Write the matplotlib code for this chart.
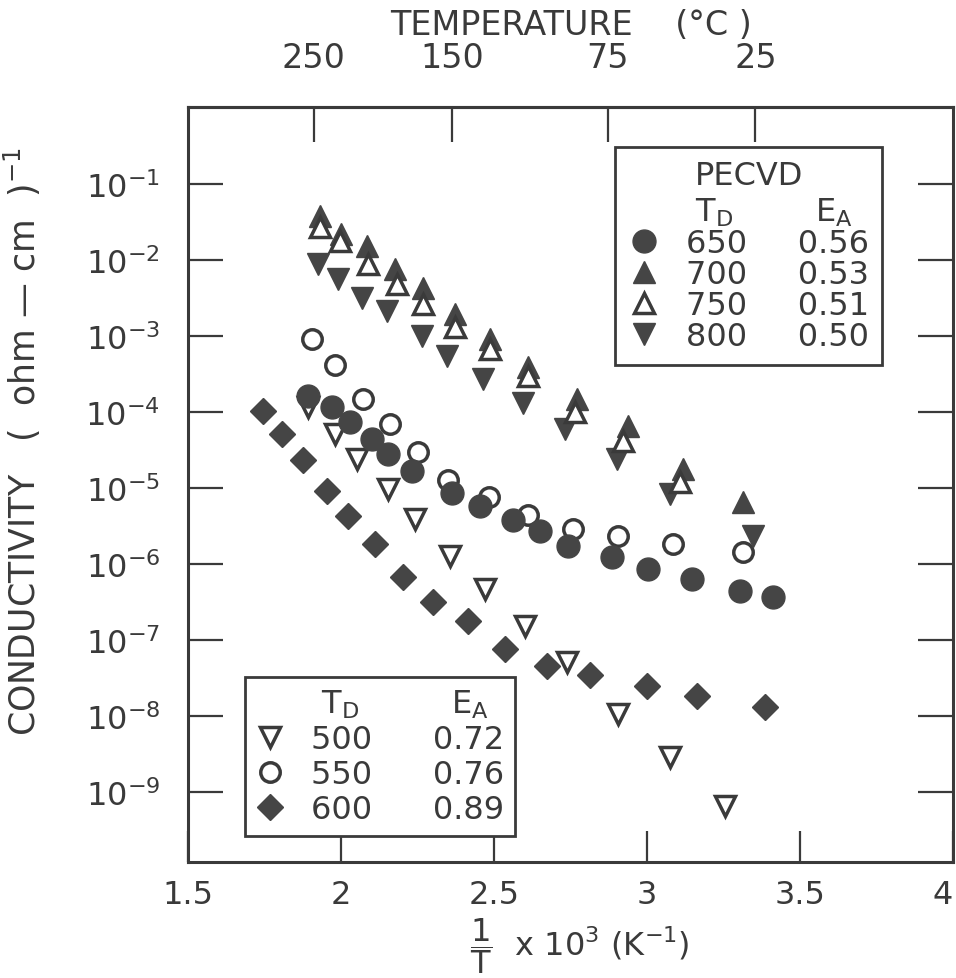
import matplotlib.pyplot as plt
from matplotlib.ticker import NullLocator
import numpy as np

plt.rcParams['font.family'] = ['DejaVu Sans']
plt.rcParams['mathtext.fontset'] = 'dejavusans'

ink = '#3a3a3a'
fill = '#454545'

# 1/T x 10^3 (K^-1) and conductivity (ohm-cm)^-1
x700 = [1.931, 2.000, 2.085, 2.176, 2.268, 2.373, 2.487, 2.611, 2.771, 2.938, 3.118, 3.314]
y700 = [3.8e-2, 2.2e-2, 1.5e-2, 7.6e-3, 4.2e-3, 1.95e-3, 9.1e-4, 3.9e-4, 1.5e-4, 6.6e-5, 1.78e-5, 6.6e-6]

x750 = [1.931, 1.997, 2.088, 2.183, 2.268, 2.373, 2.487, 2.611, 2.765, 2.922, 3.108]
y750 = [2.7e-2, 1.78e-2, 8.9e-3, 4.8e-3, 2.6e-3, 1.32e-3, 6.8e-4, 2.95e-4, 1.0e-4, 4.1e-5, 1.2e-5]

x800 = [1.925, 1.990, 2.069, 2.150, 2.265, 2.346, 2.464, 2.595, 2.732, 2.902, 3.075, 3.346]
y800 = [8.9e-3, 5.6e-3, 3.1e-3, 2.1e-3, 1.0e-3, 5.5e-4, 2.7e-4, 1.29e-4, 6.0e-5, 2.4e-5, 8.3e-6, 2.35e-6]

x650 = [1.892, 1.971, 2.029, 2.101, 2.154, 2.232, 2.363, 2.454, 2.562, 2.650, 2.742, 2.886,
        3.003, 3.147, 3.304, 3.412]
y650 = [1.62e-4, 1.17e-4, 7.4e-5, 4.4e-5, 2.8e-5, 1.66e-5, 8.5e-6, 5.8e-6, 3.8e-6, 2.7e-6,
        1.74e-6, 1.23e-6, 8.5e-7, 6.3e-7, 4.4e-7, 3.7e-7]

x550 = [1.905, 1.980, 2.072, 2.160, 2.252, 2.350, 2.484, 2.611, 2.758, 2.905, 3.085, 3.314]
y550 = [9.1e-4, 4.1e-4, 1.48e-4, 6.9e-5, 2.95e-5, 1.29e-5, 7.6e-6, 4.4e-6, 2.9e-6, 2.3e-6,
        1.82e-6, 1.45e-6]

x500 = [1.892, 1.980, 2.052, 2.154, 2.242, 2.356, 2.471, 2.601, 2.739, 2.905, 3.075, 3.255]
y500 = [1.17e-4, 5.1e-5, 2.4e-5, 9.8e-6, 3.9e-6, 1.29e-6, 4.7e-7, 1.51e-7, 5.1e-8, 1.07e-8,
        2.9e-9, 6.6e-10]

x600 = [1.745, 1.807, 1.876, 1.954, 2.023, 2.111, 2.203, 2.301, 2.415, 2.536, 2.673, 2.814,
        3.000, 3.163, 3.386]
y600 = [1.02e-4, 5.1e-5, 2.3e-5, 9.1e-6, 4.3e-6, 1.82e-6, 6.8e-7, 3.2e-7, 1.78e-7, 7.6e-8,
        4.6e-8, 3.5e-8, 2.45e-8, 1.82e-8, 1.32e-8]

pecvd_td = [650, 700, 750, 800]
pecvd_ea = ['0.56', '0.53', '0.51', '0.50']
low_td = [500, 550, 600]
low_ea = ['0.72', '0.76', '0.89']

xticks = [1.5, 2, 2.5, 3, 3.5, 4]
xticklabels = ['1.5', '2', '2.5', '3', '3.5', '4']
yexp = [-1, -2, -3, -4, -5, -6, -7, -8, -9]
temps_c = [250, 150, 75, 25]

fig = plt.figure(figsize=(9.56, 9.79), dpi=100)
W, H = 956, 979
ax = fig.add_axes([188 / W, 1 - 863 / H, 765 / W, 755 / H])
ax.set_yscale('log')
ax.set_xlim(1.5, 4)
ax.set_ylim(10 ** -9.92, 10 ** 0.01)

# points
l500, = ax.plot(x500, y500, ls='', marker='v', ms=15, mfc='white', mec=ink, mew=2.5, zorder=2)
l600, = ax.plot(x600, y600, ls='', marker='D', ms=13.5, mfc=fill, mec=fill, mew=1, zorder=3)
l550, = ax.plot(x550, y550, ls='', marker='o', ms=14, mfc='white', mec=ink, mew=2.5, zorder=3)
l650, = ax.plot(x650, y650, ls='', marker='o', ms=16.5, mfc=fill, mec=fill, mew=1, zorder=4)
l700, = ax.plot(x700, y700, ls='', marker='^', ms=16, mfc=fill, mec=fill, mew=1, zorder=3)
l750, = ax.plot(x750, y750, ls='', marker='^', ms=14, mfc='white', mec=ink, mew=2.5, zorder=4)
l800, = ax.plot(x800, y800, ls='', marker='v', ms=16, mfc=fill, mec=fill, mew=1, zorder=3)

# axes frame and ticks
for s in ax.spines.values():
    s.set_linewidth(2.2)
    s.set_color(ink)
ax.set_xticks(xticks, xticklabels)
ax.get_xticklabels()[-1].set_horizontalalignment('right')
ax.set_yticks([10.0 ** e for e in yexp], [r'$10^{%d}$' % e for e in yexp])
ax.yaxis.set_minor_locator(NullLocator())
ax.tick_params(axis='y', which='major', direction='in', length=25, width=1.6, color=ink,
               labelcolor=ink, labelsize=23, pad=20, right=True)
ax.tick_params(axis='x', which='major', direction='in', length=22, width=1.6, color=ink,
               labelcolor=ink, labelsize=23, pad=12, top=False)

sec = ax.secondary_xaxis('top')
sec.set_xticks([1000.0 / (t + 273.15) for t in temps_c], [str(t) for t in temps_c])
sec.tick_params(direction='in', length=25, width=1.6, color=ink, labelcolor=ink,
                labelsize=24, pad=24)
sec.spines['top'].set_linewidth(2.2)
sec.spines['top'].set_color(ink)
sec.set_xlabel('TEMPERATURE    (°C )', fontsize=24, color=ink, labelpad=5)

ax.set_ylabel('CONDUCTIVITY   (  ohm \u2014 cm  )$^{-1}$', fontsize=25, color=ink)
ax.yaxis.set_label_coords(-0.19, 0.558)
ax.set_xlabel(r'$\dfrac{\mathrm{1}}{\mathrm{T}}$  x 10$^3$ (K$^{-1}$)', fontsize=23, color=ink)
ax.xaxis.set_label_coords(0.512, -0.07)

# legends
leg1 = ax.legend([l650, l700, l750, l800],
                 ['%d     %s' % (t, e) for t, e in zip(pecvd_td, pecvd_ea)],
                 title='PECVD\n     T$_\\mathrm{D}$        E$_\\mathrm{A}$',
                 loc='upper center', bbox_to_anchor=(0.733, 0.947), borderaxespad=0,
                 fontsize=23, title_fontsize=23, fancybox=False, edgecolor=ink,
                 framealpha=1, labelspacing=0.0, handletextpad=0.83, handlelength=1.0,
                 borderpad=0.4, labelcolor=ink)
leg1.get_frame().set_linewidth(2)
leg1.get_title().set_color(ink)
leg1.get_title().set_multialignment('center')
ax.add_artist(leg1)

leg2 = ax.legend([l500, l550, l600],
                 ['%d      %s' % (t, e) for t, e in zip(low_td, low_ea)],
                 title='     T$_\\mathrm{D}$         E$_\\mathrm{A}$',
                 loc='lower center', bbox_to_anchor=(0.251, 0.0344), borderaxespad=0,
                 fontsize=23, title_fontsize=23, fancybox=False, edgecolor=ink,
                 framealpha=1, labelspacing=0.12, handletextpad=0.81, handlelength=0.9,
                 borderpad=0.35, labelcolor=ink)
leg2.get_frame().set_linewidth(2)
leg2.get_title().set_color(ink)

fig.savefig('out.png', dpi=100)
